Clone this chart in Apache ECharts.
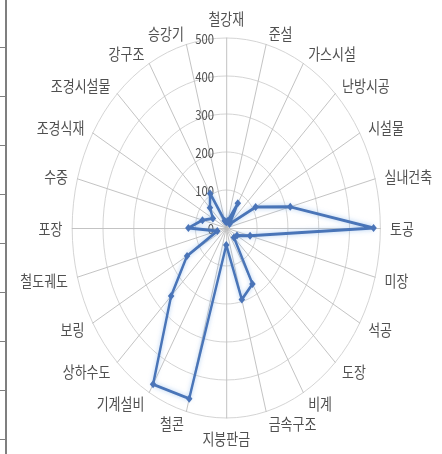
<!DOCTYPE html>
<html>
<head>
<meta charset="utf-8">
<script src="https://cdn.jsdelivr.net/npm/echarts@6/dist/echarts.min.js"></script>
<style>
  html, body { margin: 0; padding: 0; background: #fff; overflow: hidden; }
  #wrap { position: relative; width: 442px; height: 454px; overflow: hidden; }
  #chart { position: absolute; left: 0; top: 0; width: 545px; height: 454px;
           transform: scaleX(0.811); transform-origin: 0 0; }
  /* table edge on the left of the figure */
  #edge { position: absolute; left: 5px; top: 0; width: 0; height: 454px; border-left: 2px solid #7f7f7f; }
  .rule { position: absolute; left: 0; width: 6px; height: 0; border-top: 1px solid #7f7f7f; }
</style>
</head>
<body>
<div id="wrap">
  <div id="chart"></div>
  <div id="edge"></div>
</div>
<script>
// Work categories, clockwise from the top
const categories = ['철강재', '준설', '가스시설', '난방시공', '시설물', '실내건축', '토공', '미장',
  '석공', '도장', '비계', '금속구조', '지붕판금', '철콘', '기계설비', '상하수도',
  '보링', '철도궤도', '포장', '수중', '조경식재', '조경시설물', '강구조', '승강기'];
// Count per category
const values = [15, 20, 75, 15, 110, 215, 478, 80, 40, 35, 170, 195, 45, 465, 475, 253,
  147, 30, 123, 80, 50, 75, 105, 20];
// Radial scale
const axisMax = 500;
const axisStep = 100;
const edgeRules = [47, 96, 145, 194, 243, 292, 341, 390, 439];

// short rules of the table edge
const wrap = document.getElementById('wrap');
edgeRules.forEach(function (y) {
  const d = document.createElement('div');
  d.className = 'rule';
  d.style.top = y + 'px';
  wrap.appendChild(d);
});

// ECharts radar runs counter-clockwise, so reverse all but the first entry
const order = [0].concat(categories.map(function (_, i) { return i; }).slice(1).reverse());

const indicator = order.map(function (i, k) {
  const ind = { name: categories[i], min: 0, max: axisMax };
  if (k === 0) {
    ind.axisLabel = {
      show: true, margin: 15, color: '#505050', fontSize: 14,
      fontFamily: 'Noto Sans CJK KR',
      formatter: function (v) { return v % axisStep === 0 ? String(v) : ''; }
    };
  }
  return ind;
});

const chart = echarts.init(document.getElementById('chart'), null, { renderer: 'svg' });
chart.setOption({
  animation: false,
  radar: {
    center: [279, 228],
    radius: 190,
    startAngle: 90,
    splitNumber: axisMax / axisStep,
    shape: 'circle',
    nameGap: 12,
    indicator: indicator,
    axisName: { color: '#505050', fontSize: 16, fontFamily: 'Noto Sans CJK KR' },
    axisLabel: { show: false },
    axisLine: { lineStyle: { color: '#bcbcbc', width: 1 } },
    splitLine: { lineStyle: { color: '#cfcfcf', width: 1 } },
    splitArea: { show: false },
    axisTick: { show: false }
  },
  series: [{
    type: 'radar',
    symbol: 'diamond',
    symbolSize: 8,
    data: [{
      value: order.map(function (i) { return values[i]; }),
      lineStyle: { color: '#4a74b8', width: 3, shadowColor: 'rgba(120,170,230,0.6)', shadowBlur: 5 },
      itemStyle: { color: '#4a74b8' }
    }]
  }]
});
</script>
</body>
</html>
